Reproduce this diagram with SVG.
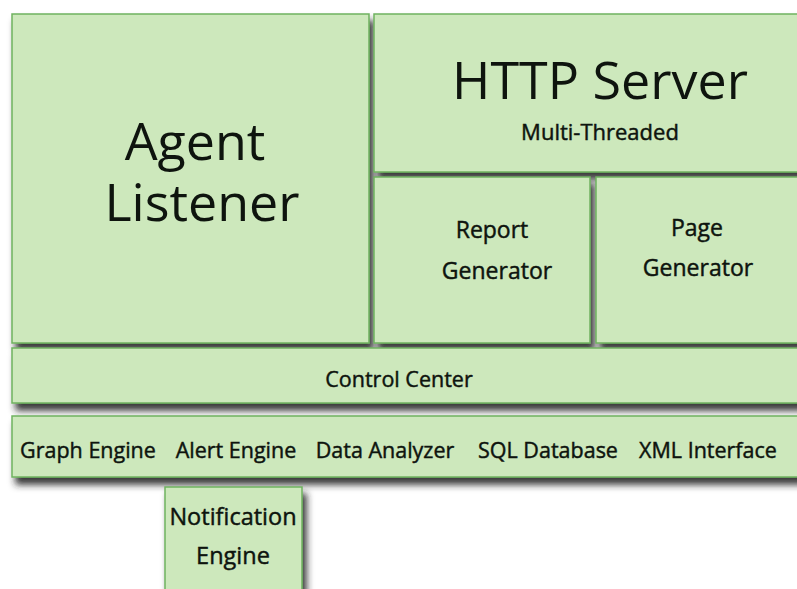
<svg xmlns="http://www.w3.org/2000/svg" width="797" height="589" viewBox="0 0 797 589">
<style>
.box{fill:#cde8bc;stroke:#6fb25f;stroke-width:1.5;filter:url(#sh)}
text{font-family:"Open Sans","Noto Sans",sans-serif;fill:#0e140e;text-anchor:middle}
.big{font-size:52px}
.s{stroke:#0e140e;stroke-width:0.45}
</style>
<defs>
<filter id="sh" x="-10%" y="-10%" width="130%" height="150%">
<feDropShadow dx="4" dy="7" stdDeviation="3.5" flood-color="#222" flood-opacity="0.9"/>
</filter>
</defs>
<rect width="797" height="589" fill="#ffffff"/>
<g id="agent-listener"><rect class="box" x="12" y="14" width="357" height="329"/><text class="big" x="195" y="160" font-size="53">Agent</text><text class="big" x="202" y="221">Listener</text></g>
<g id="http-server"><rect class="box" x="374" y="14" width="430" height="158"/><text class="big" x="600" y="99">HTTP Server</text><text class="s" x="600" y="140" font-size="22">Multi-Threaded</text></g>
<g id="report-generator"><rect class="box" x="374" y="177" width="216" height="166"/><text class="s" x="492" y="238" font-size="23">Report</text><text class="s" x="497" y="279" font-size="23">Generator</text></g>
<g id="page-generator"><rect class="box" x="596" y="177" width="210" height="166"/><text class="s" x="697" y="236" font-size="23">Page</text><text class="s" x="698" y="276" font-size="23">Generator</text></g>
<g id="control-center"><rect class="box" x="12" y="348" width="794" height="55"/><text class="s" x="399" y="387" font-size="21.5">Control Center</text></g>
<g id="services"><rect class="box" x="12" y="416" width="794" height="61"/>
<text class="s" x="88" y="458" font-size="21.5">Graph Engine</text>
<text class="s" x="236" y="458" font-size="21.5">Alert Engine</text>
<text class="s" x="385" y="458" font-size="21.5">Data Analyzer</text>
<text class="s" x="548" y="458" font-size="21.5">SQL Database</text>
<text class="s" x="708" y="458" font-size="21.5">XML Interface</text></g>
<g id="notification-engine"><rect class="box" x="165" y="487" width="137" height="110"/><text class="s" x="233" y="525" font-size="23.5">Notification</text><text class="s" x="233" y="564" font-size="23.5">Engine</text></g>
<g id="connectors"></g>
</svg>
